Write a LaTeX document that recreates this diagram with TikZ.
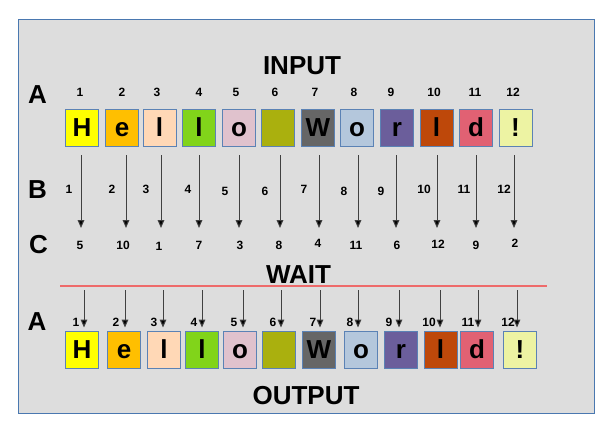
\documentclass[tikz,border=0pt]{standalone}
\usepackage{fontspec}
\setmainfont{Liberation Sans}
\usetikzlibrary{arrows.meta}

\definecolor{framefill}{HTML}{DDDDDD}
\definecolor{frameline}{HTML}{4A78B0}
\definecolor{boxline}{HTML}{5B82B5}
\definecolor{waitline}{HTML}{EE6A6A}
\definecolor{yellow}{HTML}{FFFF00}
\definecolor{gold}{HTML}{FFBF00}
\definecolor{peach}{HTML}{FFD8B6}
\definecolor{lime}{HTML}{81D41A}
\definecolor{pink}{HTML}{E0C2CD}
\definecolor{olive}{HTML}{AAB00E}
\definecolor{slate}{HTML}{666666}
\definecolor{paleblue}{HTML}{B4C7DC}
\definecolor{purple}{HTML}{6B5E9B}
\definecolor{rust}{HTML}{BE480A}
\definecolor{rose}{HTML}{E16173}
\definecolor{paleyellow}{HTML}{EDF3A3}

\tikzset{
  letterbox/.style={draw=boxline, line width=0.75pt, minimum width=24.75pt, minimum height=27.75pt, inner sep=0pt, text height=14pt, text depth=0pt, font=\fontsize{19.5}{20}\selectfont\bfseries},
  bigtext/.style={inner sep=0pt, text height=14pt, text depth=0pt, font=\fontsize{19.5}{20}\selectfont\bfseries},
  num/.style={inner sep=0pt, text height=6.5pt, text depth=0pt, font=\fontsize{9}{10}\selectfont\bfseries},
  arr/.style={draw=black!75, line width=0.75pt, -{Triangle[length=6pt,width=5pt,fill=black]}}
}

\begin{document}
\begin{tikzpicture}[x=0.75pt, y=-0.75pt]

\useasboundingbox (0,0) rectangle (610,429);
\draw [frameline, fill=framefill, line width=0.75pt] (18,19) rectangle (594,413);

% titles and row letters
\node [bigtext] (input) at (302,65) {INPUT};
\node [bigtext] (wait) at (298.5,274.5) {WAIT};
\node [bigtext] (output) at (306,395.5) {OUTPUT};
\node [bigtext] (rowA) at (37.5,94) {A};
\node [bigtext] (rowB) at (37.5,189.5) {B};
\node [bigtext] (rowC) at (38.5,244.5) {C};
\node [bigtext] (rowA2) at (37,321.5) {A};

% input letters
\node [letterbox, fill=yellow] (in1) at (82,127.5) {H};
\node [letterbox, fill=gold] (in2) at (122,127.5) {e};
\node [letterbox, fill=peach] (in3) at (159.5,127.5) {l};
\node [letterbox, fill=lime] (in4) at (199,127.5) {l};
\node [letterbox, fill=pink] (in5) at (239,127.5) {o};
\node [letterbox, fill=olive] (in6) at (278,127.5) {};
\node [letterbox, fill=slate] (in7) at (318,127.5) {W};
\node [letterbox, fill=paleblue] (in8) at (357,127.5) {o};
\node [letterbox, fill=purple] (in9) at (397,127.5) {r};
\node [letterbox, fill=rust] (in10) at (436.5,127.5) {l};
\node [letterbox, fill=rose] (in11) at (476,127.5) {d};
\node [letterbox, fill=paleyellow] (in12) at (515.5,127.5) {!};

% input positions
\node [num] (p1) at (80,92) {1};
\node [num] (p2) at (122,92) {2};
\node [num] (p3) at (157,92) {3};
\node [num] (p4) at (199,92) {4};
\node [num] (p5) at (236,92) {5};
\node [num] (p6) at (275,92) {6};
\node [num] (p7) at (315,92) {7};
\node [num] (p8) at (354,92) {8};
\node [num] (p9) at (391,92) {9};
\node [num] (p10) at (434,92) {10};
\node [num] (p11) at (475,92) {11};
\node [num] (p12) at (513,92) {12};

% row B
\node [num] (b1) at (69,189) {1};
\node [num] (b2) at (112,189) {2};
\node [num] (b3) at (146,189) {3};
\node [num] (b4) at (188,189) {4};
\node [num] (b5) at (225,191) {5};
\node [num] (b6) at (265,191) {6};
\node [num] (b7) at (304,189) {7};
\node [num] (b8) at (344,191) {8};
\node [num] (b9) at (381,191) {9};
\node [num] (b10) at (424,189) {10};
\node [num] (b11) at (464,189) {11};
\node [num] (b12) at (504,189) {12};

% row C
\node [num] (c1) at (80,245) {5};
\node [num] (c2) at (123,245) {10};
\node [num] (c3) at (159,246) {1};
\node [num] (c4) at (199,245) {7};
\node [num] (c5) at (240,245) {3};
\node [num] (c6) at (279,245) {8};
\node [num] (c7) at (318,243) {4};
\node [num] (c8) at (356,245) {11};
\node [num] (c9) at (397,245) {6};
\node [num] (c10) at (438,244) {12};
\node [num] (c11) at (476,245) {9};
\node [num] (c12) at (515,243) {2};

% arrows B to C
\coordinate (tipC) at (0,228);
\coordinate (t1) at (81,155);
\coordinate (t2) at (126,155);
\coordinate (t3) at (161,155);
\coordinate (t4) at (199,155);
\coordinate (t5) at (239,155);
\coordinate (t6) at (280,155);
\coordinate (t7) at (319,155);
\coordinate (t8) at (358,155);
\coordinate (t9) at (396,155);
\coordinate (t10) at (437,155);
\coordinate (t11) at (476,155);
\coordinate (t12) at (514,155);
\draw [arr] (t1) -- (t1 |- tipC);
\draw [arr] (t2) -- (t2 |- tipC);
\draw [arr] (t3) -- (t3 |- tipC);
\draw [arr] (t4) -- (t4 |- tipC);
\draw [arr] (t5) -- (t5 |- tipC);
\draw [arr] (t6) -- (t6 |- tipC);
\draw [arr] (t7) -- (t7 |- tipC);
\draw [arr] (t8) -- (t8 |- tipC);
\draw [arr] (t9) -- (t9 |- tipC);
\draw [arr] (t10) -- (t10 |- tipC);
\draw [arr] (t11) -- (t11 |- tipC);
\draw [arr] (t12) -- (t12 |- tipC);

\draw [waitline, line width=1.5pt] (60,286) -- (547,286);

% output letters
\node [letterbox, fill=yellow] (out1) at (82,349.5) {H};
\node [letterbox, fill=gold] (out2) at (124,349.5) {e};
\node [letterbox, fill=peach] (out3) at (164,349.5) {l};
\node [letterbox, fill=lime] (out4) at (202,349.5) {l};
\node [letterbox, fill=pink] (out5) at (240,349.5) {o};
\node [letterbox, fill=olive] (out6) at (279,349.5) {};
\node [letterbox, fill=slate] (out7) at (319,349.5) {W};
\node [letterbox, fill=paleblue] (out8) at (361,349.5) {o};
\node [letterbox, fill=purple] (out9) at (401,349.5) {r};
\node [letterbox, fill=rust] (out10) at (440.5,349.5) {l};
\node [letterbox, fill=rose] (out11) at (477,349.5) {d};
\node [letterbox, fill=paleyellow] (out12) at (520,349.5) {!};

% output positions
\node [num] (q1) at (76,322) {1};
\node [num] (q2) at (116,322) {2};
\node [num] (q3) at (154,322) {3};
\node [num] (q4) at (194,322) {4};
\node [num] (q5) at (234,322) {5};
\node [num] (q6) at (273,322) {6};
\node [num] (q7) at (313,322) {7};
\node [num] (q8) at (350,322) {8};
\node [num] (q9) at (389,322) {9};
\node [num] (q10) at (429,322) {10};
\node [num] (q11) at (468,322) {11};
\node [num] (q12) at (508,322) {12};

% arrows WAIT to output
\coordinate (w1) at (84,290);
\coordinate (w2) at (125,290);
\coordinate (w3) at (163,290);
\coordinate (w4) at (202,290);
\coordinate (w5) at (243,290);
\coordinate (w6) at (281,290);
\coordinate (w7) at (320,290);
\coordinate (w8) at (358,290);
\coordinate (w9) at (399,290);
\coordinate (w10) at (440,290);
\coordinate (w11) at (478,290);
\coordinate (w12) at (517,290);
\draw [arr, shorten >=2.25pt] (w1) -- (w1 |- out1.north);
\draw [arr, shorten >=2.25pt] (w2) -- (w2 |- out2.north);
\draw [arr, shorten >=2.25pt] (w3) -- (w3 |- out3.north);
\draw [arr, shorten >=2.25pt] (w4) -- (w4 |- out4.north);
\draw [arr, shorten >=2.25pt] (w5) -- (w5 |- out5.north);
\draw [arr, shorten >=2.25pt] (w6) -- (w6 |- out6.north);
\draw [arr, shorten >=2.25pt] (w7) -- (w7 |- out7.north);
\draw [arr, shorten >=2.25pt] (w8) -- (w8 |- out8.north);
\draw [arr, shorten >=2.25pt] (w9) -- (w9 |- out9.north);
\draw [arr, shorten >=2.25pt] (w10) -- (w10 |- out10.north);
\draw [arr, shorten >=2.25pt] (w11) -- (w11 |- out11.north);
\draw [arr, shorten >=2.25pt] (w12) -- (w12 |- out12.north);

\end{tikzpicture}
\end{document}
